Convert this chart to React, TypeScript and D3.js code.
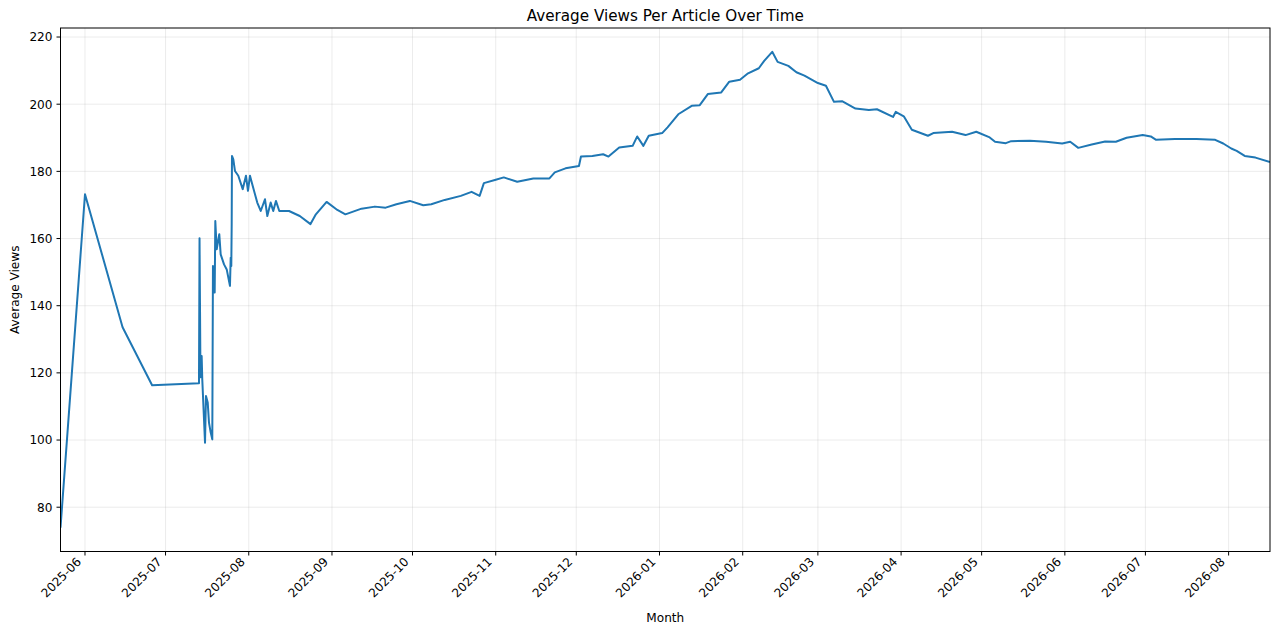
import React from 'react';
import * as d3 from 'd3';

// dates (sub-day precision where the line jumps around in July 2025)
const dates: string[] = [
  '2025-05-22T21:00', '2025-06-01', '2025-06-15', '2025-06-26', '2025-07-13T11:00',
  '2025-07-13T16:00', '2025-07-14T00:30', '2025-07-14T11:00', '2025-07-14T16:30', '2025-07-15T17:00',
  '2025-07-16T01:30', '2025-07-16T17:00', '2025-07-17T04:30', '2025-07-17T19:30', '2025-07-18T10:00',
  '2025-07-18T16:00', '2025-07-19T07:30', '2025-07-19T13:00', '2025-07-20T01:30', '2025-07-21T00:30',
  '2025-07-21T13:00', '2025-07-22T19:00', '2025-07-23T19:00', '2025-07-25T00:00', '2025-07-25T06:30',
  '2025-07-25T12:00', '2025-07-25T15:30', '2025-07-25T18:00', '2025-07-26T06:00', '2025-07-26T21:00',
  '2025-07-28T02:30', '2025-07-29T18:00', '2025-07-30T23:00', '2025-07-31T17:00', '2025-08-01T11:00',
  '2025-08-02T11:00', '2025-08-04T04:00', '2025-08-05T11:00', '2025-08-07T01:00', '2025-08-07T22:00',
  '2025-08-09T04:00', '2025-08-10T03:00', '2025-08-11T03:00', '2025-08-12T09:00',
  '2025-08-16', '2025-08-20', '2025-08-24', '2025-08-26', '2025-08-30',
  '2025-09-03', '2025-09-06', '2025-09-12', '2025-09-17', '2025-09-21', '2025-09-25', '2025-09-30',
  '2025-10-05', '2025-10-08', '2025-10-13', '2025-10-19', '2025-10-23', '2025-10-26', '2025-10-27T14:00',
  '2025-11-01', '2025-11-04', '2025-11-09', '2025-11-15', '2025-11-21', '2025-11-23', '2025-11-27',
  '2025-12-02', '2025-12-02T18:00', '2025-12-07', '2025-12-11', '2025-12-13', '2025-12-17', '2025-12-22',
  '2025-12-23T17:00', '2025-12-26', '2025-12-28',
  '2026-01-02', '2026-01-04', '2026-01-08', '2026-01-13', '2026-01-16', '2026-01-19', '2026-01-24',
  '2026-01-27', '2026-01-31',
  '2026-02-03', '2026-02-07', '2026-02-09', '2026-02-12', '2026-02-14', '2026-02-18', '2026-02-21', '2026-02-24',
  '2026-03-01', '2026-03-04', '2026-03-07', '2026-03-10', '2026-03-15', '2026-03-20', '2026-03-23',
  '2026-03-29', '2026-03-30',
  '2026-04-02', '2026-04-05', '2026-04-11', '2026-04-13', '2026-04-20', '2026-04-25', '2026-04-29',
  '2026-05-04', '2026-05-06', '2026-05-10', '2026-05-12', '2026-05-19', '2026-05-25', '2026-05-31',
  '2026-06-03', '2026-06-06', '2026-06-11', '2026-06-16', '2026-06-20', '2026-06-24', '2026-06-30',
  '2026-07-03', '2026-07-05', '2026-07-12', '2026-07-20', '2026-07-27', '2026-07-30',
  '2026-08-02', '2026-08-04', '2026-08-07', '2026-08-11', '2026-08-16T10:00',
];

const avgViews: number[] = [
  73.9, 173.2, 133.6, 116.3, 116.9,
  160.1, 118.7, 125.0, 118.0, 99.2,
  113.1, 111.2, 105.2, 102.3, 100.2,
  151.8, 143.9, 165.2, 156.8, 161.3,
  155.3, 152.3, 150.8, 145.9, 154.3,
  151.8, 164.3, 184.6, 183.6, 180.1,
  178.7, 174.7, 178.7, 174.2, 178.7,
  175.7, 170.7, 168.2, 171.7, 166.7,
  170.7, 168.2, 171.2, 168.2,
  168.2, 166.7, 164.3, 167.2, 170.9,
  168.5, 167.2, 168.9, 169.5, 169.2, 170.2, 171.2,
  169.9, 170.2, 171.5, 172.7, 173.9, 172.7, 176.5,
  177.5, 178.2, 176.9, 177.9, 177.9, 179.7, 180.9,
  181.6, 184.4, 184.6, 185.1, 184.4, 187.1, 187.6,
  190.4, 187.6, 190.6,
  191.4, 193.1, 197.0, 199.5, 199.7, 203.0, 203.5,
  206.7, 207.3,
  209.2, 210.7, 212.9, 215.6, 212.6, 211.4, 209.5, 208.5,
  206.3, 205.5, 200.7, 200.9, 198.7, 198.3, 198.5,
  196.2, 197.7,
  196.4, 192.4, 190.6, 191.4, 191.8, 190.8, 191.8,
  190.1, 188.8, 188.4, 189.0, 189.1, 188.8, 188.3,
  188.8, 187.0, 188.0, 188.9, 188.8, 190.0, 190.8,
  190.4, 189.4, 189.6, 189.6, 189.4, 188.3,
  186.8, 186.1, 184.6, 184.1, 182.8,
];

const yTicks = [80, 100, 120, 140, 160, 180, 200, 220];

const parseDay = d3.utcParse('%Y-%m-%d');
const parseTime = d3.utcParse('%Y-%m-%dT%H:%M');
const parse = (s: string) => (s.length > 10 ? parseTime(s) : parseDay(s)) as Date;

const width = 1280;
const height = 634;
const margin = { top: 28, right: 10, bottom: 82.5, left: 60.5 };
const font = 'DejaVu Sans, sans-serif';
const tickSize = 12.1;

const App: React.FC = () => {
  const points = dates.map((d, i) => ({ date: parse(d), value: avgViews[i] }));

  const x = d3.scaleUtc()
    .domain(d3.extent(points, d => d.date) as [Date, Date])
    .range([margin.left, width - margin.right]);

  // matplotlib-style 5% padding on y
  const [yMin, yMax] = d3.extent(avgViews) as [number, number];
  const pad = (yMax - yMin) * 0.05;
  const y = d3.scaleLinear()
    .domain([yMin - pad, yMax + pad])
    .range([height - margin.bottom, margin.top]);

  const line = d3.line<{ date: Date; value: number }>()
    .x(d => x(d.date))
    .y(d => y(d.value));

  const xTicks = d3.utcMonth.range(d3.utcMonth.ceil(x.domain()[0]), x.domain()[1]);
  const fmt = d3.utcFormat('%Y-%m');

  const left = margin.left;
  const right = width - margin.right;
  const top = margin.top;
  const bottom = height - margin.bottom;

  return (
    <svg width={width} height={height} style={{ position: 'absolute', left: 0, top: 0, background: '#fff' }}
      fontFamily={font}>
      {/* grid */}
      <g stroke="#b0b0b0" strokeOpacity={0.3} strokeWidth={0.8}>
        {xTicks.map(t => (
          <line key={+t} x1={x(t)} x2={x(t)} y1={top} y2={bottom} />
        ))}
        {yTicks.map(t => (
          <line key={t} x1={left} x2={right} y1={y(t)} y2={y(t)} />
        ))}
      </g>

      <clipPath id="plot">
        <rect x={left} y={top} width={right - left} height={bottom - top} />
      </clipPath>
      <path d={line(points) as string} fill="none" stroke="#1f77b4" strokeWidth={2}
        strokeLinejoin="round" clipPath="url(#plot)" />

      {/* spines */}
      <rect x={left} y={top} width={right - left} height={bottom - top} fill="none" stroke="#000" strokeWidth={1} />

      {/* x axis */}
      {xTicks.map(t => (
        <g key={+t} transform={`translate(${x(t)},${bottom})`}>
          <line y2={4} stroke="#000" strokeWidth={1} />
          <text transform="translate(-3,11) rotate(-45)" textAnchor="end" fontSize={tickSize} fill="#000">
            {fmt(t)}
          </text>
        </g>
      ))}

      {/* y axis */}
      {yTicks.map(t => (
        <g key={t} transform={`translate(${left},${y(t)})`}>
          <line x2={-4} stroke="#000" strokeWidth={1} />
          <text x={-8} dy="0.36em" textAnchor="end" fontSize={tickSize} fill="#000">{t}</text>
        </g>
      ))}

      <text x={(left + right) / 2} y={21} textAnchor="middle" fontSize={15.2} fill="#000">
        Average Views Per Article Over Time
      </text>
      <text x={(left + right) / 2} y={621.5} textAnchor="middle" fontSize={tickSize} fill="#000">Month</text>
      <text transform={`translate(18.5,${(top + bottom) / 2}) rotate(-90)`} textAnchor="middle" fontSize={tickSize} fill="#000">
        Average Views
      </text>
    </svg>
  );
};

export default App;
